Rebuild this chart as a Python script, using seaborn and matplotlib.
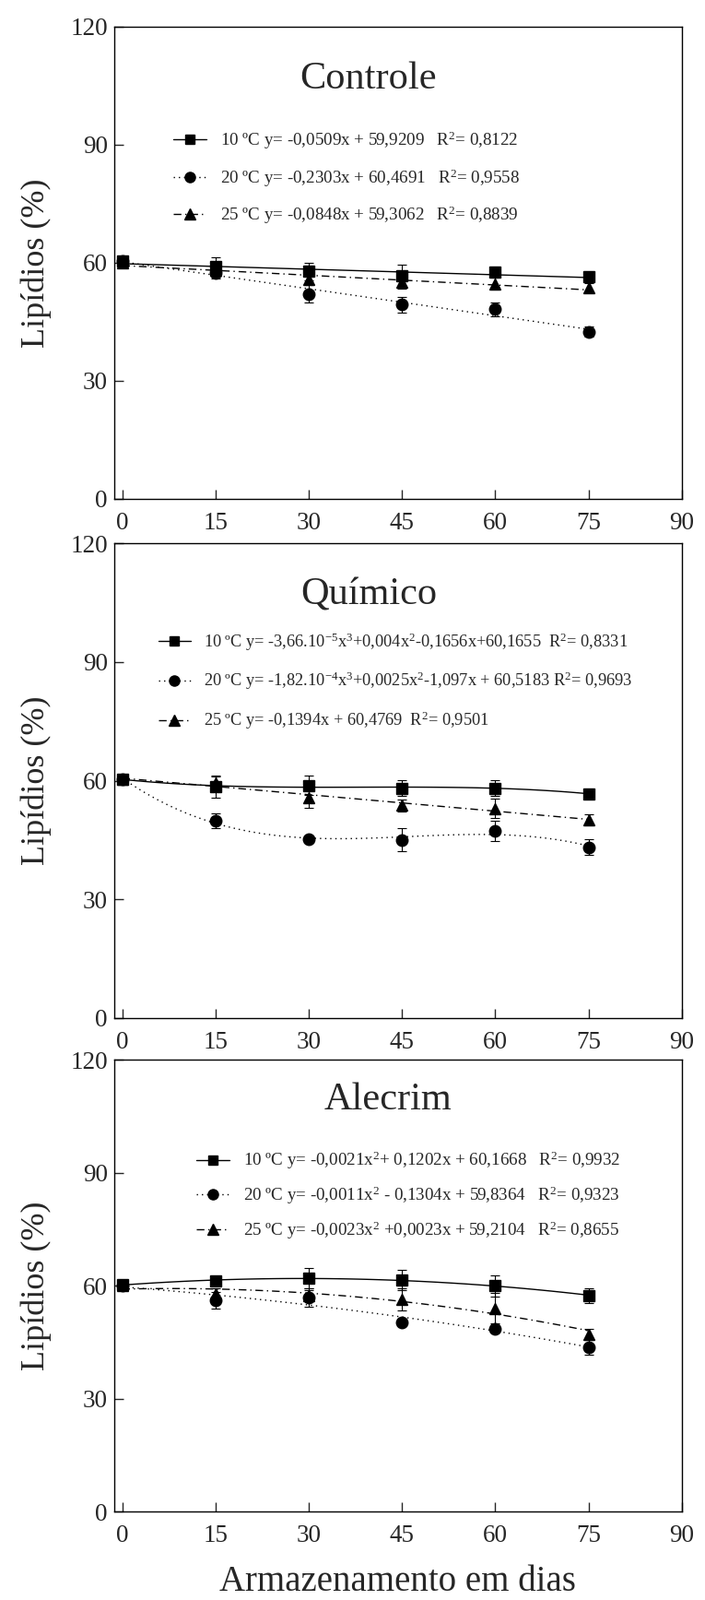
import matplotlib
matplotlib.use('Agg')
import matplotlib.pyplot as plt
from matplotlib.lines import Line2D
import seaborn as sns

sns.set_style('ticks')
plt.rcParams['font.family'] = ['Liberation Serif', 'DejaVu Serif']
plt.rcParams['mathtext.fontset'] = 'custom'
plt.rcParams['mathtext.rm'] = 'Liberation Serif'
plt.rcParams['mathtext.it'] = 'Liberation Serif:italic'

# storage days
dias = [0, 15, 30, 45, 60, 75]

# Controle
controle_10 = [60.4, 59.0, 57.8, 56.8, 57.6, 56.5]
controle_10_err = [0.8, 2.5, 2.2, 2.8, 0.8, 0.8]
controle_20 = [60.4, 57.5, 52.1, 49.4, 48.2, 42.5]
controle_20_err = [0.8, 1.5, 2.3, 2.0, 1.8, 1.3]
controle_25 = [60.0, 58.2, 55.8, 55.0, 54.7, 53.6]
controle_25_err = [0.8, 1.5, 1.5, 1.5, 1.5, 1.2]

# Quimico
quimico_10 = [60.4, 58.4, 58.8, 58.1, 58.1, 56.7]
quimico_10_err = [0.8, 2.6, 2.4, 2.0, 2.0, 0.8]
quimico_20 = [60.4, 49.9, 45.2, 45.0, 47.3, 43.2]
quimico_20_err = [0.8, 1.9, 0.6, 2.9, 2.6, 2.0]
quimico_25 = [60.4, 59.5, 55.7, 53.8, 53.0, 50.1]
quimico_25_err = [0.8, 1.7, 2.6, 1.5, 2.5, 1.5]

# Alecrim
alecrim_10 = [60.3, 61.2, 61.9, 61.5, 59.9, 57.4]
alecrim_10_err = [0.8, 0.8, 2.7, 2.8, 2.8, 2.0]
alecrim_20 = [60.0, 56.2, 56.8, 50.2, 48.5, 43.6]
alecrim_20_err = [0.8, 2.2, 2.5, 0.8, 1.0, 2.0]
alecrim_25 = [60.0, 57.8, 57.3, 56.3, 54.0, 47.0]
alecrim_25_err = [0.8, 1.5, 1.5, 3.0, 4.0, 1.5]

controle_labels = [
    '10 ºC y= -0,0509x + 59,9209   R$^2$= 0,8122',
    '20 ºC y= -0,2303x + 60,4691   R$^2$= 0,9558',
    '25 ºC y= -0,0848x + 59,3062   R$^2$= 0,8839',
]
quimico_labels = [
    '10 ºC y= -3,66.10$^{-5}$x$^3$+0,004x$^2$-0,1656x+60,1655  R$^2$= 0,8331',
    '20 ºC y= -1,82.10$^{-4}$x$^3$+0,0025x$^2$-1,097x + 60,5183 R$^2$= 0,9693',
    '25 ºC y= -0,1394x + 60,4769  R$^2$= 0,9501',
]
alecrim_labels = [
    '10 ºC y= -0,0021x$^2$+ 0,1202x + 60,1668   R$^2$= 0,9932',
    '20 ºC y= -0,0011x$^2$ - 0,1304x + 59,8364   R$^2$= 0,9323',
    '25 ºC y= -0,0023x$^2$ +0,0023x + 59,2104   R$^2$= 0,8655',
]

markers = ['s', 'o', '^']
styles = ['-', (0, (1, 3)), (0, (6, 3, 1, 3))]
msizes = [8, 9, 9]

panels = [
    dict(title='Controle', series=[controle_10, controle_20, controle_25],
         errs=[controle_10_err, controle_20_err, controle_25_err],
         orders=[1, 1, 1], labels=controle_labels, fs=13.7,
         rect=[0.162, 0.6882, 0.805, 0.2951],
         title_pos=(0.448, 0.89), leg_pos=(0.104, 0.782), spacing=0.9),
    dict(title='Químico', series=[quimico_10, quimico_20, quimico_25],
         errs=[quimico_10_err, quimico_20_err, quimico_25_err],
         orders=[3, 3, 1], labels=quimico_labels, fs=13.2,
         rect=[0.162, 0.3637, 0.805, 0.2968],
         title_pos=(0.448, 0.89), leg_pos=(0.078, 0.815), spacing=1.05),
    dict(title='Alecrim', series=[alecrim_10, alecrim_20, alecrim_25],
         errs=[alecrim_10_err, alecrim_20_err, alecrim_25_err],
         orders=[2, 2, 2], labels=alecrim_labels, fs=13.7,
         rect=[0.162, 0.0553, 0.805, 0.2824],
         title_pos=(0.482, 0.91), leg_pos=(0.1445, 0.80), spacing=0.75),
]

fig = plt.figure(figsize=(7.65, 17.35), dpi=100)

for i, p in enumerate(panels):
    ax = fig.add_axes(p['rect'])
    for vals, err, order, m, ls, ms in zip(p['series'], p['errs'], p['orders'],
                                           markers, styles, msizes):
        sns.regplot(x=dias, y=vals, order=order, ci=None, scatter=False, ax=ax,
                    line_kws=dict(color='black', lw=1, ls=ls))
        ax.errorbar(dias, vals, yerr=err, fmt=m, color='black', ms=ms,
                    capsize=3.5, elinewidth=0.8, capthick=0.8, zorder=5)
    handles = [Line2D([], [], color='black', marker=m, ls=ls, lw=1, ms=ms - 1)
               for m, ls, ms in zip(markers, styles, msizes)]
    ax.legend(handles, p['labels'], loc='upper left', bbox_to_anchor=p['leg_pos'],
              frameon=False, fontsize=p['fs'], handlelength=1.9, handletextpad=0.8,
              labelspacing=p['spacing'], borderpad=0, borderaxespad=0)
    ax.text(p['title_pos'][0], p['title_pos'][1], p['title'], transform=ax.transAxes,
            ha='center', va='center', fontsize=30.5)
    ax.set_xlim(-1.3, 90)
    ax.set_ylim(0, 120)
    ax.set_xticks([0, 15, 30, 45, 60, 75, 90])
    ax.set_yticks([0, 30, 60, 90, 120])
    ax.tick_params(direction='in', length=7, width=1, labelsize=19.5)
    ax.tick_params(axis='x', pad=10)
    ax.tick_params(axis='y', pad=5)
    for s in ax.spines.values():
        s.set_linewidth(1)
        s.set_color('black')
    ax.set_ylabel('Lipídios (%)', fontsize=26, labelpad=15)
    ax.set_xlabel('')
    if i == 2:
        ax.set_xlabel('Armazenamento em dias', fontsize=28, labelpad=14)

fig.savefig('out.png', dpi=100)
